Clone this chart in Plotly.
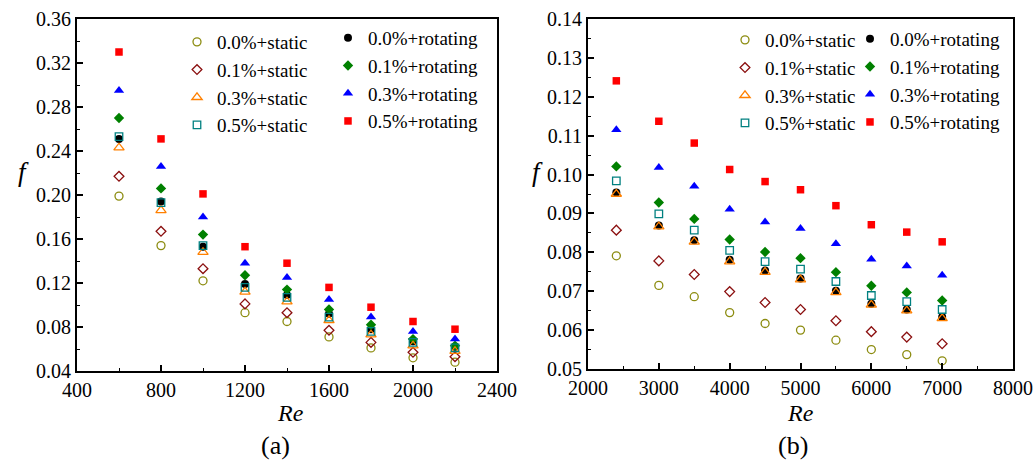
import plotly.graph_objects as go

# ---------------- data ----------------
re_a = [600, 800, 1000, 1200, 1400, 1600, 1800, 2000, 2200]
a_00_static = [0.199, 0.154, 0.122, 0.093, 0.085, 0.071, 0.061, 0.052, 0.048]
a_01_static = [0.217, 0.167, 0.133, 0.101, 0.093, 0.077, 0.066, 0.057, 0.053]
a_03_static = [0.243, 0.186, 0.148, 0.112, 0.103, 0.086, 0.073, 0.063, 0.058]
a_05_static = [0.253, 0.193, 0.154, 0.116, 0.107, 0.089, 0.076, 0.066, 0.061]
a_00_rot = [0.251, 0.194, 0.153, 0.119, 0.109, 0.092, 0.078, 0.067, 0.062]
a_01_rot = [0.270, 0.206, 0.164, 0.127, 0.114, 0.096, 0.082, 0.069, 0.063]
a_03_rot = [0.295, 0.226, 0.180, 0.138, 0.125, 0.105, 0.089, 0.076, 0.069]
a_05_rot = [0.330, 0.251, 0.201, 0.153, 0.138, 0.116, 0.098, 0.085, 0.078]

re_b = [2400, 3000, 3500, 4000, 4500, 5000, 5500, 6000, 6500, 7000]
b_00_static = [0.0791, 0.0715, 0.0686, 0.0645, 0.0617, 0.0600, 0.0574, 0.0550, 0.0537, 0.0521]
b_01_static = [0.0857, 0.0778, 0.0743, 0.0699, 0.0671, 0.0653, 0.0624, 0.0596, 0.0582, 0.0565]
b_03_static = [0.0950, 0.0866, 0.0827, 0.0776, 0.0749, 0.0730, 0.0697, 0.0665, 0.0650, 0.0630]
b_05_static = [0.0984, 0.0899, 0.0857, 0.0805, 0.0776, 0.0757, 0.0725, 0.0689, 0.0673, 0.0653]
b_00_rot = [0.0954, 0.0869, 0.0831, 0.0781, 0.0753, 0.0733, 0.0701, 0.0668, 0.0653, 0.0634]
b_01_rot = [0.1021, 0.0928, 0.0886, 0.0833, 0.0801, 0.0785, 0.0749, 0.0714, 0.0697, 0.0676]
b_03_rot = [0.1115, 0.1018, 0.0970, 0.0911, 0.0878, 0.0861, 0.0822, 0.0782, 0.0765, 0.0741]
b_05_rot = [0.1241, 0.1137, 0.1081, 0.1013, 0.0982, 0.0961, 0.0920, 0.0871, 0.0852, 0.0827]

static_names = ["0.0%+static", "0.1%+static", "0.3%+static", "0.5%+static"]
rot_names = ["0.0%+rotating", "0.1%+rotating", "0.3%+rotating", "0.5%+rotating"]

# ---------------- styles ----------------
FONT = "Liberation Serif"
W, H = 1035, 464
ML, MR, MT, MB = 77, 22, 19, 93
PW, PH = W - ML - MR, H - MT - MB

static_styles = [
    dict(symbol="circle-open", color="#8C8C10", size=8),
    dict(symbol="diamond-open", color="#8B1010", size=7.5),
    dict(symbol="triangle-up-open", color="#FF8000", size=9),
    dict(symbol="square-open", color="#008080", size=7.5),
]
rot_styles = [
    dict(symbol="circle", color="#000000", size=8),
    dict(symbol="diamond", color="#008000", size=8),
    dict(symbol="triangle-up", color="#0000FF", size=9),
    dict(symbol="square", color="#FF0000", size=7.5),
]


def px_x(X):
    return (X - ML) / PW


def px_y(Y):
    return (H - MB - Y) / PH


fig = go.Figure()


def add_panel(xs, statics, rots, xa, ya, leg_s, leg_r):
    for vals, name, st in zip(rots, rot_names, rot_styles):
        fig.add_trace(go.Scatter(
            x=xs, y=vals, mode="markers", name=name, xaxis=xa, yaxis=ya, legend=leg_r,
            marker=dict(symbol=st["symbol"], color=st["color"], size=st["size"],
                        line=dict(width=0))))
    for vals, name, st in zip(statics, static_names, static_styles):
        fig.add_trace(go.Scatter(
            x=xs, y=vals, mode="markers", name=name, xaxis=xa, yaxis=ya, legend=leg_s,
            marker=dict(symbol=st["symbol"], color=st["color"], size=st["size"],
                        line=dict(width=1.3, color=st["color"]))))


add_panel(re_a, [a_00_static, a_01_static, a_03_static, a_05_static],
          [a_00_rot, a_01_rot, a_03_rot, a_05_rot], "x", "y", "legend", "legend2")
add_panel(re_b, [b_00_static, b_01_static, b_03_static, b_05_static],
          [b_00_rot, b_01_rot, b_03_rot, b_05_rot], "x2", "y2", "legend3", "legend4")

tickfont = dict(family=FONT, size=20, color="black")
axis_common = dict(showline=True, linecolor="black", linewidth=1.8, mirror=True,
                   ticks="inside", ticklen=6, tickwidth=1.5, tickcolor="black",
                   showgrid=False, zeroline=False, tickfont=tickfont, automargin=False)

fig.update_layout(
    width=W, height=H,
    margin=dict(l=ML, r=MR, t=MT, b=MB, autoexpand=False),
    paper_bgcolor="white", plot_bgcolor="white",
    xaxis=dict(domain=[0, px_x(497)], range=[400, 2400], dtick=400, tick0=400,
               minor=dict(ticks="inside", ticklen=3, dtick=200, tickwidth=1.2, tickcolor="black"),
               ticklabelstandoff=0, anchor="y", **axis_common),
    yaxis=dict(domain=[0, 1], range=[0.04, 0.36], dtick=0.04, tick0=0.04, tickformat=".2f",
               minor=dict(ticks="inside", ticklen=3, dtick=0.02, tickwidth=1.2, tickcolor="black"),
               ticklabelstandoff=0, anchor="x", **axis_common),
    xaxis2=dict(domain=[px_x(588), 1], range=[2000, 8000], dtick=1000, tick0=2000,
                minor=dict(ticks="inside", ticklen=3, dtick=500, tickwidth=1.2, tickcolor="black"),
                ticklabelstandoff=0, anchor="y2", **axis_common),
    yaxis2=dict(domain=[px_y(369), 1], range=[0.05, 0.14], dtick=0.01, tick0=0.05, tickformat=".2f",
                minor=dict(ticks="inside", ticklen=3, dtick=0.005, tickwidth=1.2, tickcolor="black"),
                ticklabelstandoff=0, anchor="x2", **axis_common),
    showlegend=True,
)

legfont = dict(family=FONT, size=19, color="black")


def leg(xpix, ypix):
    return dict(xref="paper", yref="paper", x=px_x(xpix), y=px_y(ypix),
                xanchor="left", yanchor="top", bgcolor="rgba(0,0,0,0)",
                font=legfont, borderwidth=0, itemsizing="trace", tracegroupgap=0)


fig.update_layout(
    legend=leg(197 - 20, 42 - 19),
    legend2=leg(348 - 20, 38 - 19),
    legend3=leg(745 - 20, 40 - 19),
    legend4=leg(870 - 20, 39 - 19),
)

annotations = [
    dict(text="<i>Re</i>", x=px_x(290), y=px_y(413), size=24),
    dict(text="<i>Re</i>", x=px_x(800), y=px_y(413), size=24),
    dict(text="<i>f</i>", x=px_x(23), y=px_y(172), size=27),
    dict(text="<i>f</i>", x=px_x(537), y=px_y(172), size=27),
    dict(text="(a)", x=px_x(275), y=px_y(445), size=26),
    dict(text="(b)", x=px_x(793), y=px_y(445), size=26),
]
for a in annotations:
    sz = a.pop("size")
    fig.add_annotation(xref="paper", yref="paper", xanchor="center", yanchor="middle",
                       showarrow=False, font=dict(family=FONT, size=sz, color="black"), **a)

fig.write_html("out.html")
